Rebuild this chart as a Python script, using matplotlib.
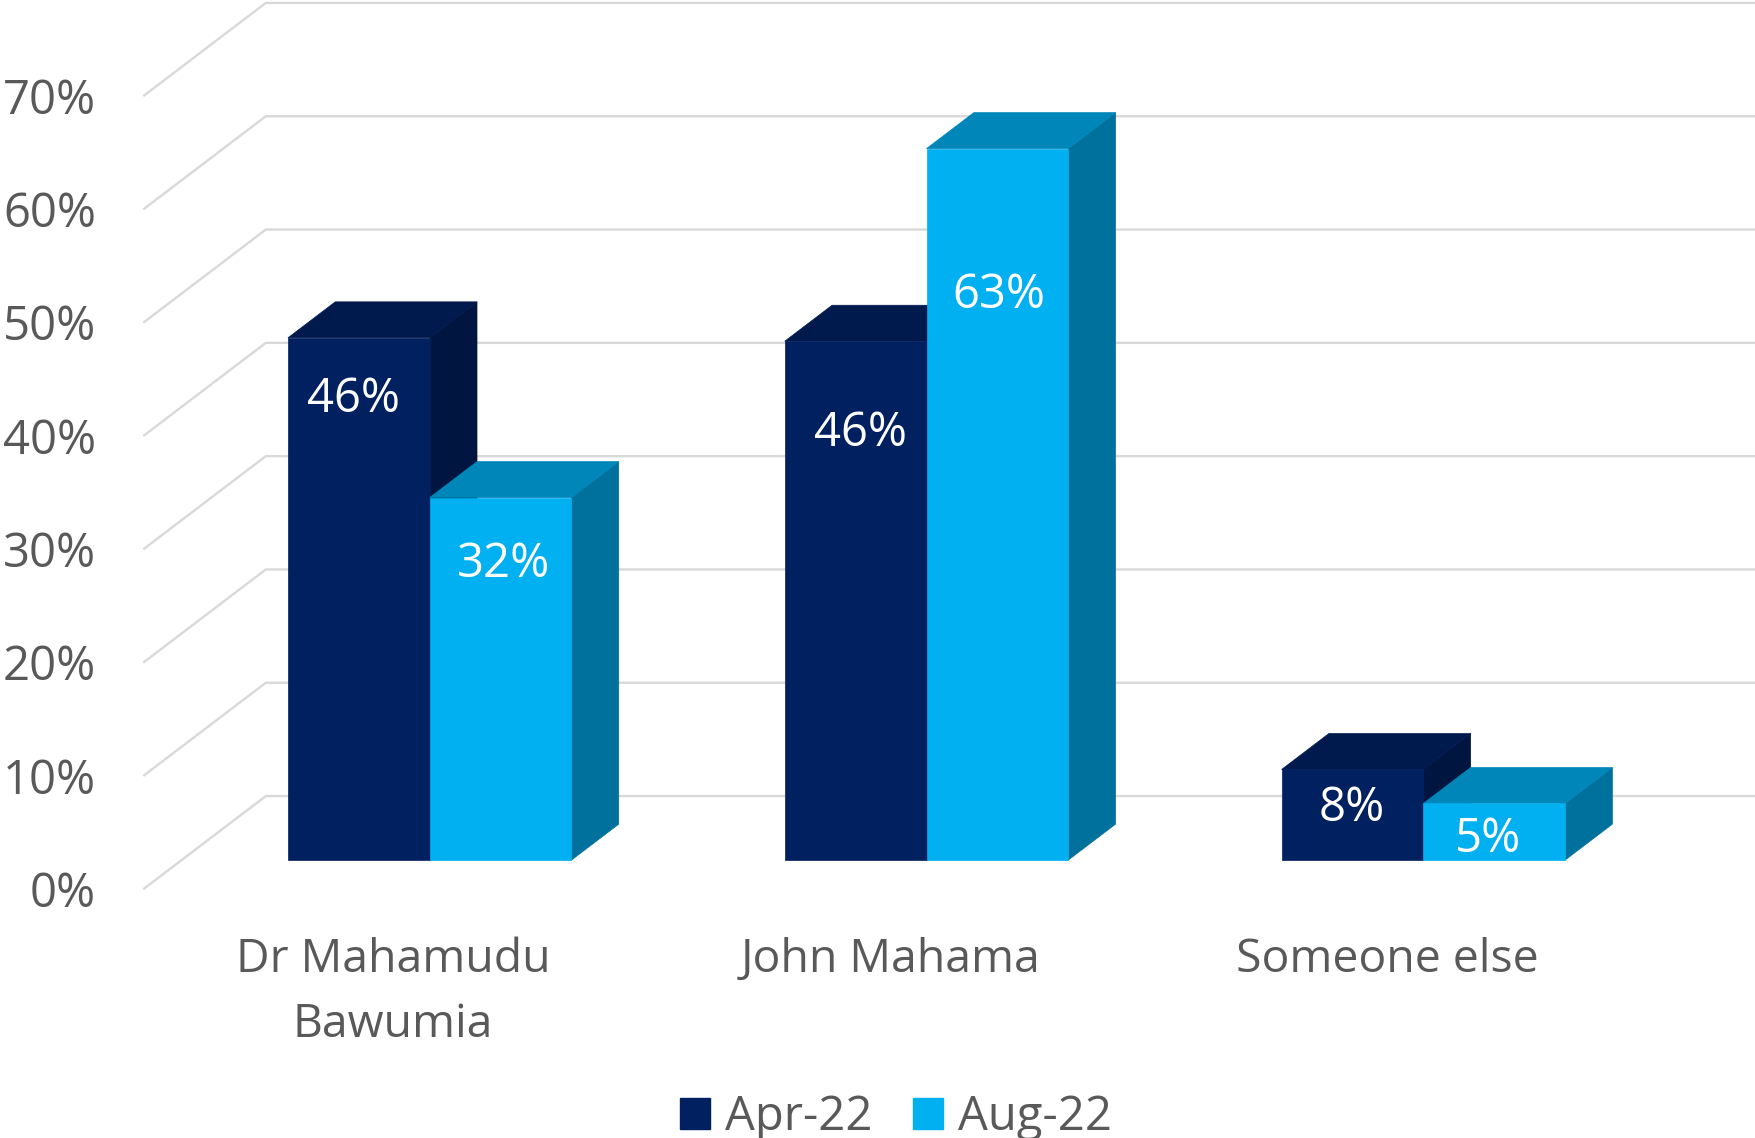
import matplotlib
matplotlib.use("Agg")
import matplotlib.pyplot as plt
from matplotlib.patches import Patch

plt.rcParams['font.family'] = ['Open Sans', 'DejaVu Sans']

# data
categories = ["Dr Mahamudu\nBawumia", "John Mahama", "Someone else"]
series_names = ["Apr-22", "Aug-22"]
apr_values = [46.1, 45.8, 8.0]
aug_values = [32.0, 62.8, 5.0]
apr_labels = ["46%", "46%", "8%"]
aug_labels = ["32%", "63%", "5%"]
y_ticks = [0, 10, 20, 30, 40, 50, 60, 70]

# label placement: (shift from bar centre in categories, height in %)
apr_label_pos = [(-0.010, 43.2), (0.010, 40.2), (-0.001, 7.1)]
aug_label_pos = [(0.006, 28.6), (0.004, 52.4), (-0.012, 4.35)]

# colours: front, side, top
apr_colors = ("#002060", "#00153f", "#001a4d")
aug_colors = ("#00b0f0", "#00719c", "#0086b8")
grid_color = "#d9d9d9"
text_color = "#595959"

# fake 3d: how far one unit of depth shifts things on the page
depth_x = 0.2445
depth_y = 8.16
bar_width = 0.285
bar_front = 0.307
bar_back = 0.696
font_size = 34


def project(x, y, depth):
    return x + depth * depth_x, y + depth * depth_y


def draw_bar(ax, x_left, value, colors, z):
    front, side, top = colors
    x_right = x_left + bar_width
    corners = {
        "front": [(x_left, 0, bar_front), (x_right, 0, bar_front), (x_right, value, bar_front), (x_left, value, bar_front)],
        "side": [(x_right, 0, bar_front), (x_right, 0, bar_back), (x_right, value, bar_back), (x_right, value, bar_front)],
        "top": [(x_left, value, bar_front), (x_right, value, bar_front), (x_right, value, bar_back), (x_left, value, bar_back)],
    }
    for face, color in zip(["side", "top", "front"], [side, top, front]):
        pts = [project(*c) for c in corners[face]]
        ax.fill([p[0] for p in pts], [p[1] for p in pts], color=color, lw=0.5, zorder=z)


fig = plt.figure(figsize=(17.56, 11.38), dpi=100, facecolor="white")
ax = fig.add_axes([0, 0, 1, 1])
ax.set_xlim(-0.790, 2.741)
ax.set_ylim(-22.02, 78.42)
ax.axis("off")

# side wall and back wall gridlines
for t in y_ticks:
    x0, y0 = project(-0.5, t, 0)
    x1, y1 = project(-0.5, t, 1)
    x2, y2 = project(2.5, t, 1)
    ax.plot([x0, x1, x2], [y0, y1, y2], color=grid_color, lw=1.7, solid_joinstyle="miter", zorder=1, clip_on=False)
    ax.text(-0.597, t - 0.5, f"{t}%", ha="right", va="center", fontsize=font_size, color=text_color)

for i, name in enumerate(categories):
    x_mid = i * 0.999 - 0.001
    draw_bar(ax, x_mid - bar_width, apr_values[i], apr_colors, 2 + i * 2)
    draw_bar(ax, x_mid, aug_values[i], aug_colors, 3 + i * 2)

    dx, y = apr_label_pos[i]
    cx = project(x_mid - bar_width / 2, 0, bar_front)[0]
    ax.text(cx + dx, y, apr_labels[i], ha="center", va="center", fontsize=font_size, color="white", zorder=20)
    dx, y = aug_label_pos[i]
    cx = project(x_mid + bar_width / 2, 0, bar_front)[0]
    ax.text(cx + dx, y, aug_labels[i], ha="center", va="center", fontsize=font_size, color="white", zorder=20)

    ax.text(i, -4.3, name, ha="center", va="top", fontsize=33.4, color=text_color, linespacing=1.53)

handles = [Patch(color=apr_colors[0]), Patch(color=aug_colors[0])]
leg = ax.legend(handles, series_names, ncol=2, loc="lower center", bbox_to_anchor=(0.5102, -0.0238),
                frameon=False, fontsize=font_size, handlelength=0.64, handleheight=0.64,
                handletextpad=0.3, columnspacing=0.87, labelcolor=text_color, borderpad=0.0)

fig.savefig("out.png", dpi=100, facecolor="white")
